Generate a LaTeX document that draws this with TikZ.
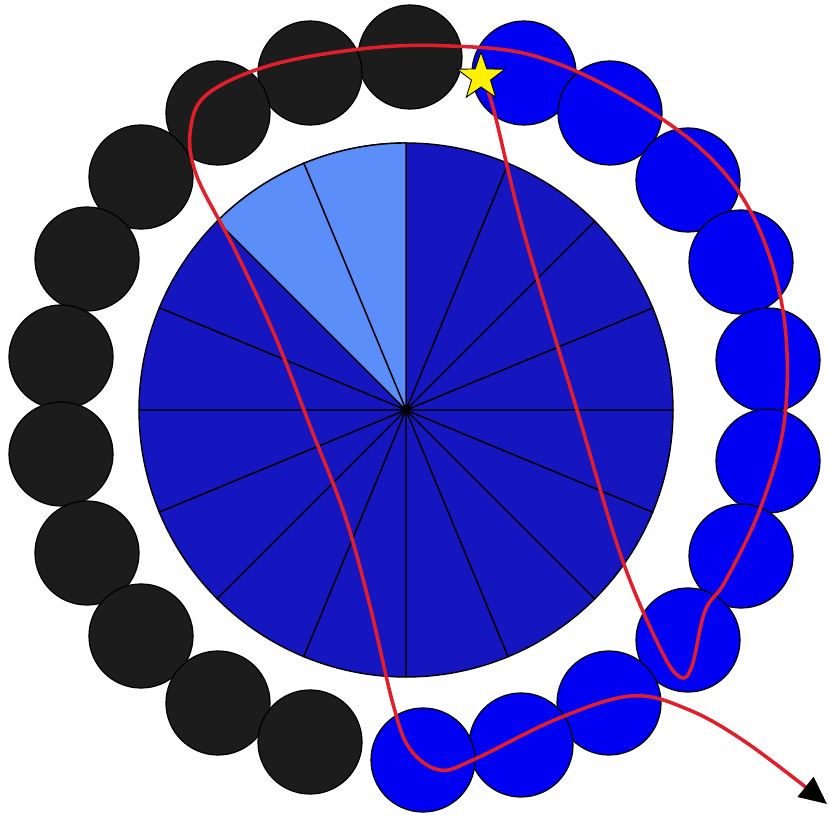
\documentclass[tikz,border=0pt]{standalone}
\usetikzlibrary{arrows.meta,shapes.geometric}

\definecolor{piedark}{RGB}{22,22,192}
\definecolor{pielight}{RGB}{92,142,250}
\definecolor{beadblue}{RGB}{0,0,242}
\definecolor{beadblack}{RGB}{28,28,28}
\definecolor{pathred}{RGB}{226,30,42}

\begin{document}
\begin{tikzpicture}[
    x = 0.02cm, y = 0.02cm,
    slice/.style  = {fill=piedark, draw=black, line width=0.8pt},
    bead/.style   = {draw=black, line width=0.7pt},
    walk/.style   = {draw=pathred, line width=2pt,
                     -{Triangle[color=black, length=0.55cm, width=0.5cm]}},
    goal/.style   = {star, star points=5, star point ratio=2.5,
                     fill=yellow, draw=black, line width=0.5pt,
                     minimum size=1.0cm, inner sep=0pt}
]
\useasboundingbox (0,0) rectangle (829,816);

% pie in 16 slices
\coordinate (hub) at (406,406);
\foreach \k in {0,...,15} {
  \pgfmathsetmacro{\a}{22.5*\k}
  \filldraw[slice] (hub) -- ++(\a:267) arc[start angle=\a, delta angle=22.5, radius=267] -- cycle;
}
\foreach \k in {4,5} {
  \pgfmathsetmacro{\a}{22.5*\k}
  \filldraw[slice, fill=pielight] (hub) -- ++(\a:267) arc[start angle=\a, delta angle=22.5, radius=267] -- cycle;
}
\fill (hub) circle (4.5);

% ring of beads
\foreach \x/\y in {410/759, 310/743, 218/703, 141/639, 87/557, 61/459,
                   61/362, 87/263, 141/180, 218/113, 310/74}
  \filldraw[bead, fill=beadblack] (\x,\y) circle (52);
\foreach \x/\y in {524/743, 610/703, 688/636, 741/554, 768/456, 768/355,
                   741/260, 688/176, 609/113, 521/71, 423/56}
  \filldraw[bead, fill=beadblue] (\x,\y) circle (52);

% the walk
\draw[walk] plot[smooth, tension=0.6] coordinates {
  (484,735) (494,705) (524,583) (577,406) (621,260) (660,168) (680,139)
  (692,150) (705,205) (726,236) (762,312) (785,400) (783,505) (753,600)
  (700,668) (614,726) (531,761) (450,770) (370,768) (275,752) (210,724)
  (191,690) (196,642) (235,566) (275,480) (312,385) (345,300) (370,210)
  (393,112) (410,67) (440,46) (475,57) (557,97) (631,120) (687,107)
  (747,73) (827,12)};

\node[goal] (start) at (481,739) {};

\end{tikzpicture}
\end{document}
